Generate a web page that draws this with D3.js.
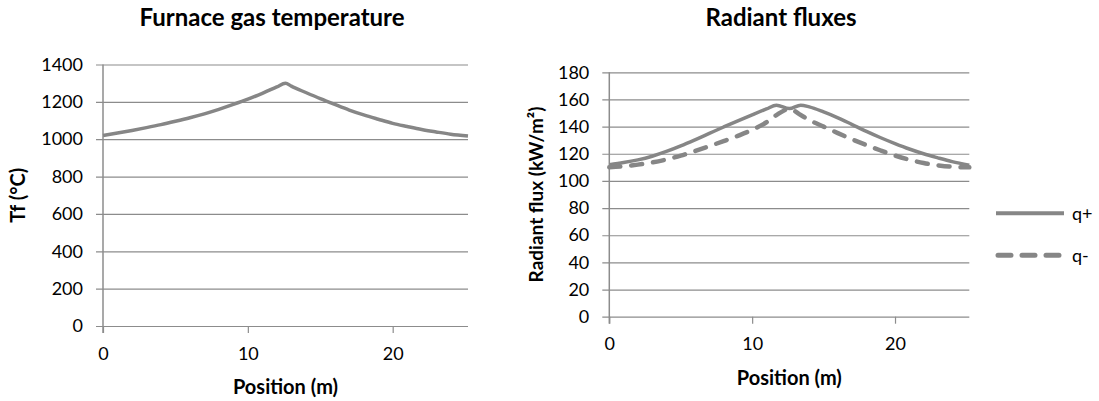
<!DOCTYPE html>
<html>
<head>
<meta charset="utf-8">
<script src="https://cdn.jsdelivr.net/npm/d3@7"></script>
<style>
  body { margin: 0; background: #fff; }
  svg { display: block; }
  .domain { display: none; }
</style>
</head>
<body>
<div id="chart"></div>
<script>
// furnace gas temperature (deg C) along the furnace
var tempPos  = [0, 1, 2, 3, 4, 5, 6, 7, 8, 9, 10, 11, 12, 12.6, 13, 14, 15, 16, 17, 18, 19, 20, 21, 22, 23, 24, 25.2];
var tempVals = [1020, 1033, 1047, 1062, 1078, 1096, 1115, 1136, 1160, 1186, 1214, 1246, 1280, 1300, 1284, 1250, 1217, 1186, 1156, 1130, 1107, 1085, 1068, 1052, 1039, 1027, 1017];

// radiant fluxes (kW/m2)
var fluxPos = [0, 1, 2, 3, 4, 5, 6, 7, 8, 9, 10, 11, 11.7, 12.6, 13.4, 14, 15, 16, 17, 18, 19, 20, 21, 22, 23, 24, 25.2];
var qPlus   = [112, 113.5, 115.5, 118.2, 121.7, 125.8, 130.3, 135, 139.7, 144.3, 148.7, 153, 155.8, 153.3, 155.8, 154.5, 150.8, 146.5, 141.5, 136.5, 131.8, 127.5, 123.5, 120, 117, 114.2, 111.5];
var qMinus  = [110, 110.8, 112, 113.6, 115.8, 118.6, 122, 125.6, 129.3, 133.2, 137.6, 143.2, 148.5, 153, 148.5, 144.8, 140, 135.2, 130.6, 126.4, 122.4, 118.7, 115.6, 113.2, 111.5, 110.4, 110];

var xTicks = [0, 10, 20];
var tempTicks = [0, 200, 400, 600, 800, 1000, 1200, 1400];
var fluxTicks = [0, 20, 40, 60, 80, 100, 120, 140, 160, 180];
var seriesNames = ["q+", "q-"];

var width = 1099, height = 401,
    font = "Lato, 'Open Sans', sans-serif",
    lineColor = "#868686",
    gridColor = "#8c8c8c";

var svg = d3.select("#chart").append("svg")
    .attr("width", width)
    .attr("height", height)
    .style("font-family", font);

function styleTicks(sel) {
    sel.attr("font-family", null).attr("font-size", null);
    sel.selectAll(".tick text")
        .style("font-family", font)
        .style("font-size", "18px")
        .attr("fill", "#000");
}

function panel(opt) {
    var x = d3.scaleLinear().domain([0, 25.2]).range([opt.left, opt.right]);
    var y = d3.scaleLinear().domain(opt.yDomain).range([opt.bottom, opt.top]);
    var g = svg.append("g");

    // horizontal gridlines + y labels
    var ya = g.append("g")
        .attr("transform", "translate(" + opt.left + ",0)")
        .call(d3.axisLeft(y).tickValues(opt.yTicks).tickFormat(d3.format("d"))
            .tickSizeOuter(0).tickSizeInner(-(opt.right - opt.left)).tickPadding(20));
    ya.selectAll(".tick line")
        .attr("x1", -7)
        .attr("stroke", gridColor)
        .attr("stroke-width", 1.2);
    styleTicks(ya);

    // x ticks below
    var xa = g.append("g")
        .attr("transform", "translate(0," + opt.bottom + ")")
        .call(d3.axisBottom(x).tickValues(xTicks).tickSizeOuter(0).tickSize(7).tickPadding(14));
    xa.selectAll(".tick line").attr("stroke", gridColor).attr("stroke-width", 1.2);
    styleTicks(xa);

    // vertical axis line
    g.append("line")
        .attr("x1", opt.left).attr("x2", opt.left)
        .attr("y1", opt.top).attr("y2", opt.bottom + 7)
        .attr("stroke", gridColor)
        .attr("stroke-width", 1.5);

    g.append("text")
        .attr("x", opt.titleX).attr("y", 26)
        .attr("text-anchor", "middle")
        .style("font-size", "24px").style("font-weight", "bold")
        .text(opt.title);

    g.append("text")
        .attr("x", (opt.left + opt.right) / 2).attr("y", opt.bottom + 68)
        .attr("text-anchor", "middle")
        .style("font-size", "20px").style("font-weight", "bold")
        .text("Position (m)");

    g.append("text")
        .attr("transform", "translate(" + opt.yTitleX + "," + (opt.top + opt.bottom) / 2 + ") rotate(-90)")
        .attr("text-anchor", "middle")
        .style("font-size", opt.yTitleSize).style("font-weight", "bold")
        .text(opt.yTitle);

    return { g: g, x: x, y: y };
}

// left chart
var p1 = panel({
    left: 103, right: 468, top: 64.5, bottom: 326,
    yDomain: [0, 1400], yTicks: tempTicks,
    title: "Furnace gas temperature", titleX: 272,
    yTitle: "Tf (°C)", yTitleX: 25, yTitleSize: "20px"
});

var line1 = d3.line()
    .x(function(d, i) { return p1.x(tempPos[i]); })
    .y(function(d) { return p1.y(d); })
    .curve(d3.curveMonotoneX);

p1.g.append("path")
    .datum(tempVals)
    .attr("d", line1)
    .attr("fill", "none")
    .attr("stroke", lineColor)
    .attr("stroke-width", 3.5);

// right chart
var p2 = panel({
    left: 609.3, right: 969.3, top: 72.3, bottom: 316.7,
    yDomain: [0, 180], yTicks: fluxTicks,
    title: "Radiant fluxes", titleX: 781,
    yTitle: "Radiant flux (kW/m²)", yTitleX: 543, yTitleSize: "19px"
});

var line2 = d3.line()
    .x(function(d, i) { return p2.x(fluxPos[i]); })
    .y(function(d) { return p2.y(d); })
    .curve(d3.curveMonotoneX);

var dashes = ["none", "11,11"];
var widths = [3.5, 4.5];

[qPlus, qMinus].forEach(function(s, k) {
    p2.g.append("path")
        .datum(s)
        .attr("d", line2)
        .attr("fill", "none")
        .attr("stroke", lineColor)
        .attr("stroke-width", widths[k])
        .attr("stroke-linecap", k ? "round" : "butt")
        .attr("stroke-dasharray", dashes[k]);
});

// legend
var legend = svg.append("g").selectAll("g")
    .data(seriesNames)
    .enter().append("g")
    .attr("transform", function(d, i) { return "translate(996," + (213.3 + i * 42) + ")"; });

legend.append("line")
    .attr("x1", function(d, i) { return i ? 2 : 0; })
    .attr("x2", 68)
    .attr("stroke", lineColor)
    .attr("stroke-width", function(d, i) { return i ? 5 : 4; })
    .attr("stroke-linecap", function(d, i) { return i ? "round" : "butt"; })
    .attr("stroke-dasharray", function(d, i) { return i ? "13,11" : "none"; });

legend.append("text")
    .attr("x", 76).attr("dy", "0.35em")
    .style("font-size", "18px")
    .text(function(d) { return d; });
</script>
</body>
</html>
